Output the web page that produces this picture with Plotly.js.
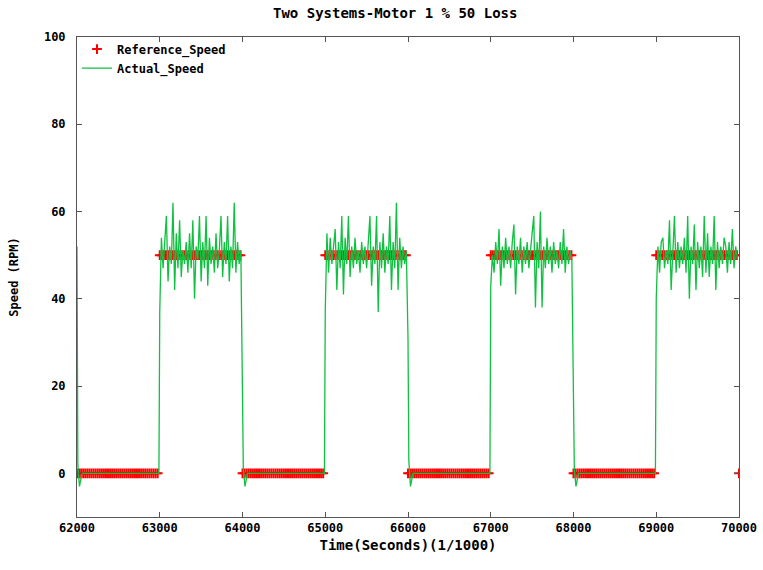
<!DOCTYPE html>
<html>
<head>
<meta charset="utf-8">
<script src="https://cdn.plot.ly/plotly-3.0.1.min.js"></script>
<style>html,body{margin:0;padding:0;background:#fff;}#chart{width:763px;height:570px;}</style>
</head>
<body>
<div id="chart"></div>
<script>
const chartTitle = "Two Systems-Motor 1 % 50 Loss";
const xTitle = "Time(Seconds)(1/1000)";
const yTitle = "Speed (RPM)";
const xTicks = [62000, 63000, 64000, 65000, 66000, 67000, 68000, 69000, 70000];
const yTicks = [0, 20, 40, 60, 80, 100];

const refTime = [
62000,62025,62050,62075,62100,62125,62150,62175,62200,62225,62250,62275,62300,62325,62350,62375,62400,62425,62450,62475,62500,62525,62550,62575,62600,62625,62650,62675,62700,62725,62750,62775,62800,62825,62850,62875,62900,62925,62950,62975,
63000,63025,63050,63075,63100,63125,63150,63175,63200,63225,63250,63275,63300,63325,63350,63375,63400,63425,63450,63475,63500,63525,63550,63575,63600,63625,63650,63675,63700,63725,63750,63775,63800,63825,63850,63875,63900,63925,63950,63975,
64000,64025,64050,64075,64100,64125,64150,64175,64200,64225,64250,64275,64300,64325,64350,64375,64400,64425,64450,64475,64500,64525,64550,64575,64600,64625,64650,64675,64700,64725,64750,64775,64800,64825,64850,64875,64900,64925,64950,64975,
65000,65025,65050,65075,65100,65125,65150,65175,65200,65225,65250,65275,65300,65325,65350,65375,65400,65425,65450,65475,65500,65525,65550,65575,65600,65625,65650,65675,65700,65725,65750,65775,65800,65825,65850,65875,65900,65925,65950,65975,
66000,66025,66050,66075,66100,66125,66150,66175,66200,66225,66250,66275,66300,66325,66350,66375,66400,66425,66450,66475,66500,66525,66550,66575,66600,66625,66650,66675,66700,66725,66750,66775,66800,66825,66850,66875,66900,66925,66950,66975,
67000,67025,67050,67075,67100,67125,67150,67175,67200,67225,67250,67275,67300,67325,67350,67375,67400,67425,67450,67475,67500,67525,67550,67575,67600,67625,67650,67675,67700,67725,67750,67775,67800,67825,67850,67875,67900,67925,67950,67975,
68000,68025,68050,68075,68100,68125,68150,68175,68200,68225,68250,68275,68300,68325,68350,68375,68400,68425,68450,68475,68500,68525,68550,68575,68600,68625,68650,68675,68700,68725,68750,68775,68800,68825,68850,68875,68900,68925,68950,68975,
69000,69025,69050,69075,69100,69125,69150,69175,69200,69225,69250,69275,69300,69325,69350,69375,69400,69425,69450,69475,69500,69525,69550,69575,69600,69625,69650,69675,69700,69725,69750,69775,69800,69825,69850,69875,69900,69925,69950,69975,
70000];
const refSpeed = [
0,0,0,0,0,0,0,0,0,0,0,0,0,0,0,0,0,0,0,0,0,0,0,0,0,0,0,0,0,0,0,0,0,0,0,0,0,0,0,0,
50,50,50,50,50,50,50,50,50,50,50,50,50,50,50,50,50,50,50,50,50,50,50,50,50,50,50,50,50,50,50,50,50,50,50,50,50,50,50,50,
0,0,0,0,0,0,0,0,0,0,0,0,0,0,0,0,0,0,0,0,0,0,0,0,0,0,0,0,0,0,0,0,0,0,0,0,0,0,0,0,
50,50,50,50,50,50,50,50,50,50,50,50,50,50,50,50,50,50,50,50,50,50,50,50,50,50,50,50,50,50,50,50,50,50,50,50,50,50,50,50,
0,0,0,0,0,0,0,0,0,0,0,0,0,0,0,0,0,0,0,0,0,0,0,0,0,0,0,0,0,0,0,0,0,0,0,0,0,0,0,0,
50,50,50,50,50,50,50,50,50,50,50,50,50,50,50,50,50,50,50,50,50,50,50,50,50,50,50,50,50,50,50,50,50,50,50,50,50,50,50,50,
0,0,0,0,0,0,0,0,0,0,0,0,0,0,0,0,0,0,0,0,0,0,0,0,0,0,0,0,0,0,0,0,0,0,0,0,0,0,0,0,
50,50,50,50,50,50,50,50,50,50,50,50,50,50,50,50,50,50,50,50,50,50,50,50,50,50,50,50,50,50,50,50,50,50,50,50,50,50,50,50,
0];

const actualTime = [
62000,62010,62030,62060,62990,
63000,63020,63040,63060,63080,63100,63120,63140,63160,63180,63200,63220,63240,63260,63280,63300,63320,63340,63360,63380,63400,63420,63440,63460,63480,63500,63520,63540,63560,63580,63600,63620,63640,63660,63680,63700,63720,63740,63760,63780,63800,63820,63840,63860,63880,63900,63920,63940,63960,63980,
64000,64010,64030,64060,64990,
65000,65020,65040,65060,65080,65100,65120,65140,65160,65180,65200,65220,65240,65260,65280,65300,65320,65340,65360,65380,65400,65420,65440,65460,65480,65500,65520,65540,65560,65580,65600,65620,65640,65660,65680,65700,65720,65740,65760,65780,65800,65820,65840,65860,65880,65900,65920,65940,65960,65980,
66000,66010,66030,66060,66990,
67000,67020,67040,67060,67080,67100,67120,67140,67160,67180,67200,67220,67240,67260,67280,67300,67320,67340,67360,67380,67400,67420,67440,67460,67480,67500,67520,67540,67560,67580,67600,67620,67640,67660,67680,67700,67720,67740,67760,67780,67800,67820,67840,67860,67880,67900,67920,67940,67960,67980,
68000,68010,68030,68060,68990,
69000,69020,69040,69060,69080,69100,69120,69140,69160,69180,69200,69220,69240,69260,69280,69300,69320,69340,69360,69380,69400,69420,69440,69460,69480,69500,69520,69540,69560,69580,69600,69620,69640,69660,69680,69700,69720,69740,69760,69780,69800,69820,69840,69860,69880,69900,69920,69940,69960,69980];
const actualSpeed = [
52,2,-3,0,0,
37,54,47,53,59,44,52,48,62,42,55,47,58,45,51,48,53,46,55,47,58,40,52,49,59,44,53,47,59,43,54,48,52,46,55,47,51,59,45,53,48,59,44,52,47,62,46,53,48,51,
8,1,-3,0,0,
37,55,46,54,48,52,56,42,53,47,59,41,54,48,59,45,52,47,54,48,51,46,53,48,52,47,54,59,43,52,48,59,37,53,47,55,46,52,48,59,42,53,47,62,42,54,47,52,48,51,
31,3,-3,0,0,
43,50,46,53,48,56,43,52,47,54,48,52,47,53,57,41,52,48,54,46,52,48,53,47,51,54,59,38,53,47,60,38,52,47,54,48,52,46,53,48,51,47,53,48,56,46,52,48,51,49,
8,1,-3,0,0,
40,52,46,53,54,47,51,48,58,42,52,59,46,53,47,52,48,54,46,59,40,52,48,57,42,53,47,52,45,59,46,55,45,52,48,59,42,53,47,52,48,54,52,46,53,48,56,47,52,49];

const fontMono = {family: "DejaVu Sans Mono", size: 12, color: "#000", weight: "bold"};
const fontTitle = {family: "DejaVu Sans Mono", size: 14, color: "#000", weight: "bold"};

const traces = [
  {
    x: refTime, y: refSpeed, name: "Reference_Speed", type: "scatter", mode: "markers",
    marker: {symbol: "cross-thin", size: 7, color: "#ff0000", line: {color: "#ff0000", width: 2}}
  },
  {
    x: actualTime, y: actualSpeed, name: "Actual_Speed", type: "scatter", mode: "lines",
    line: {color: "#10c040", width: 1.3}
  }
];

const axisCommon = {
  showgrid: false, zeroline: false, showline: true, linecolor: "#555", linewidth: 1,
  mirror: "ticks", ticks: "inside", ticklen: 5, tickcolor: "#555",
  tickfont: fontMono
};

const layout = {
  width: 763, height: 570,
  margin: {l: 77, r: 24, t: 37, b: 53},
  paper_bgcolor: "#fff", plot_bgcolor: "#fff",
  title: {text: chartTitle, font: fontTitle,
          x: 0.518, xanchor: "center", y: 0.977, yanchor: "middle", yref: "container"},
  xaxis: Object.assign({}, axisCommon, {
    range: [62000, 70000], tickvals: xTicks, ticktext: xTicks.map(String),
    title: {text: xTitle, font: fontTitle, standoff: 5}
  }),
  yaxis: Object.assign({}, axisCommon, {
    range: [-10, 100], tickvals: yTicks, ticktext: yTicks.map(String), ticklabelstandoff: 8,
    title: {text: yTitle, font: fontMono, standoff: 22}
  }),
  showlegend: true,
  legend: {x: 0.0, y: 1.005, xanchor: "left", yanchor: "top", bgcolor: "rgba(0,0,0,0)",
           font: fontMono, tracegroupgap: 0, itemwidth: 30}
};

Plotly.newPlot("chart", traces, layout, {displayModeBar: false, staticPlot: true});
</script>
</body>
</html>
